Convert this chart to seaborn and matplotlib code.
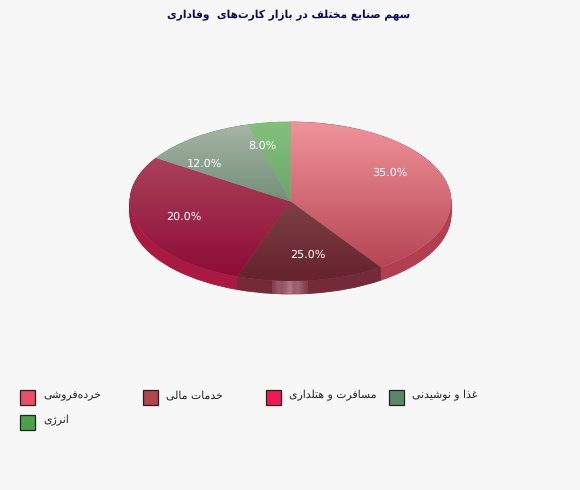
import unicodedata
import numpy as np
import matplotlib
matplotlib.use("Agg")
import matplotlib.pyplot as plt
from matplotlib.colors import LinearSegmentedColormap
from matplotlib.patches import Rectangle
import seaborn as sns

title_text = "سهم صنایع مختلف در بازار کارت‌های  وفاداری"
categories = ["خرده‌فروشی", "خدمات مالی", "مسافرت و هتلداری", "غذا و نوشیدنی", "انرژی"]
# the percentages printed on the slices
printed_values = [35.0, 25.0, 20.0, 12.0, 8.0]
# the share of the circle each slice really occupies in the picture
drawn_shares = [40.5, 14.9, 28.8, 11.6, 4.2]

top_colors = ["#f0939a", "#915f5f", "#b35166", "#a8b5a5", "#84c07c"]
bottom_colors = ["#b03e4e", "#66222d", "#8c0a34", "#3c6950", "#508c5a"]
wall_colors = ["#b23f50", "#752a3a", "#a81a42", "#6c8c78", "#68a468"]
swatch_colors = ["#ea4f63", "#b1444f", "#ef1a55", "#5a8768", "#4ba04b"]

W, H = 580, 490
sns.set_theme(style="white")
plt.rcParams["text.hinting"] = "none"
BG = "#f7f7f7"
fig = plt.figure(figsize=(W / 100, H / 100), dpi=100, facecolor=BG)


def shape(text):
    """Join Persian letters into presentation forms, in visual order."""
    def form(ch, kind):
        try:
            return unicodedata.lookup(f"{unicodedata.name(ch)} {kind} FORM")
        except (KeyError, ValueError):
            return None

    def is_letter(ch):
        return ch != " " and ch != "\u200c"

    out = []
    for i, ch in enumerate(text):
        if ch == "\u200c":
            continue
        if ch == " ":
            out.append(ch)
            continue
        prev = text[i - 1] if i > 0 else " "
        nxt = text[i + 1] if i + 1 < len(text) else " "
        joins_prev = is_letter(prev) and form(prev, "INITIAL") is not None
        joins_next = is_letter(nxt) and form(ch, "INITIAL") is not None
        if joins_prev and joins_next:
            kind = "MEDIAL"
        elif joins_prev:
            kind = "FINAL"
        elif joins_next:
            kind = "INITIAL"
        else:
            kind = "ISOLATED"
        out.append(form(ch, kind) or ch)
    return "".join(reversed(out))


def fx(px):
    return px / W


def fy(py):
    return 1 - py / H


# Axes: x -1..1 covers 130..451 px; y 1..-1 covers 122..281 px
left, right, top, bottom = 130.0, 451.0, 122.0, 281.0
pad_x, pad_low, pad_high = 0.05, 0.25, 0.05
sx = (right - left) / 2
sy = (bottom - top) / 2
ax = fig.add_axes([
    fx(left - pad_x * sx),
    fy(bottom + pad_low * sy),
    (2 + 2 * pad_x) * sx / W,
    (2 + pad_low + pad_high) * sy / H,
])
ax.set_facecolor("none")

depth = 13.0 / sy
start = 90
layers = np.linspace(depth, 0, 15)
lowest = None
for k, off in enumerate(layers):
    wedges, _ = ax.pie(
        drawn_shares, colors=wall_colors, startangle=start, counterclock=False,
        radius=1, center=(0, -off), frame=True,
        wedgeprops=dict(linewidth=0.6, edgecolor="none"),
    )
    for w, c in zip(wedges, wall_colors):
        w.set_edgecolor(c)
        w.set_zorder(1 + k * 0.01)
    if k == 0:
        lowest = wedges

# lighter blurred patch on the front wall
hl = np.array([0.3, 0.6, 0.5, 0.7, 1.0, 0.65, 0.75, 0.5, 0.25])[None, :, None]
hl_rgba = np.concatenate([np.full((1, 9, 3), 1.0) * np.array([0.85, 0.68, 0.72]), hl * 0.6], axis=2)
for idx in (1, 2):
    hl_img = ax.imshow(hl_rgba, extent=((272 - 290.5) / sx, (308 - 290.5) / sx, -1 - depth, -0.9),
                       aspect="auto", zorder=2, interpolation="bilinear")
    hl_img.set_clip_path(lowest[idx])

wedges, _ = ax.pie(
    drawn_shares, colors=top_colors, startangle=start, counterclock=False,
    radius=1, center=(0, 0), frame=True, wedgeprops=dict(linewidth=0),
)
grad = np.linspace(0, 1, 256)[:, None]
for i, w in enumerate(wedges):
    w.set_zorder(3)
    cmap = LinearSegmentedColormap.from_list(f"g{i}", [top_colors[i], bottom_colors[i]])
    img = ax.imshow(grad, cmap=cmap, extent=(-1, 1, -1, 1), origin="upper",
                    aspect="auto", zorder=4, interpolation="bilinear")
    img.set_clip_path(w)

ax.set_aspect("auto")
ax.set_xlim(-1 - pad_x, 1 + pad_x)
ax.set_ylim(-1 - pad_low, 1 + pad_high)
ax.set_axis_off()

label_xy = [(390, 173), (308, 255), (184, 217), (204, 164), (262, 146)]
for v, (x, y) in zip(printed_values, label_xy):
    fig.text(fx(x), fy(y), f"{v:.1f}%", color="white", fontsize=8,
             ha="center", va="center", family="DejaVu Sans", zorder=10)

fig.text(fx(289), fy(15), shape(title_text), color="#0a0a5a", fontsize=7.7,
         fontweight="bold", ha="center", va="center", family="DejaVu Sans")

palette = sns.color_palette(swatch_colors)
slots = [(20, 390), (143, 390), (266, 390), (389, 390), (20, 415)]
for name, c, (x, y) in zip(categories, palette, slots):
    fig.add_artist(Rectangle((fx(x), fy(y + 15)), 15 / W, 15 / H, transform=fig.transFigure,
                             facecolor=c, edgecolor="#222222", linewidth=0.9))
    fig.text(fx(x + 23), fy(y + 5.5), shape(name), color="#222222", fontsize=7.8,
             ha="left", va="center", family="DejaVu Sans")

fig.savefig("out.png", dpi=100, facecolor=BG)
